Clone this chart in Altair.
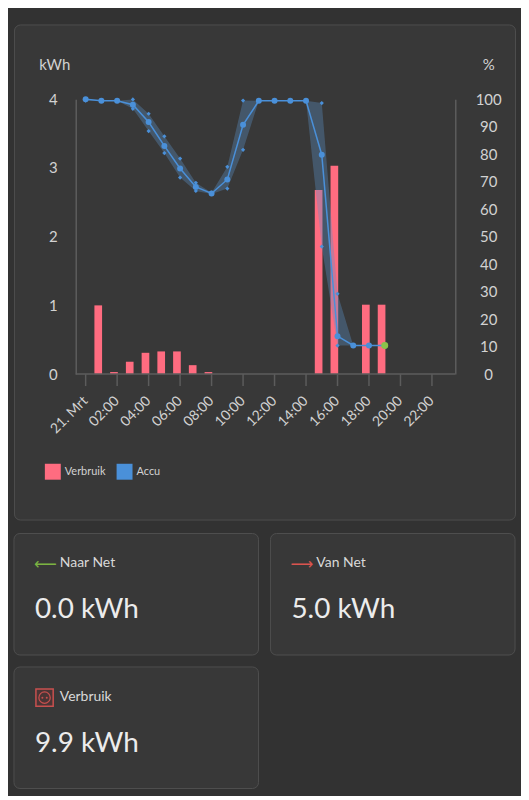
import altair as alt
import pandas as pd

# ---------------- data ----------------
soc_hours = [0, 1, 2, 3, 4, 5, 6, 7, 8, 9, 10, 11, 12, 13, 14, 15, 16, 17, 18, 19]
soc_pct = [100, 99.4, 99.4, 98.0, 91.7, 83.0, 74.8, 68.1, 65.7, 70.8,
           90.7, 99.4, 99.4, 99.4, 99.4, 79.8, 13.8, 10.4, 10.4, 10.4]
soc_max = [100, 99.4, 99.4, 99.9, 94.7, 86.5, 78.4, 69.6, 66.0, 75.4,
           99.5, 99.4, 99.4, 99.4, 99.4, 98.6, 29.2, 10.4, 10.4, 10.4]
soc_min = [99.5, 99.4, 99.4, 96.5, 88.4, 80.4, 71.5, 66.6, 65.5, 67.5,
           81.6, 99.4, 99.4, 99.4, 99.4, 46.4, 10.4, 10.4, 10.4, 10.4]

bar_hours = [0.8, 1.8, 2.8, 3.8, 4.8, 5.8, 6.8, 7.8, 14.8, 15.8, 17.8, 18.8]
bar_kwh = [1.0, 0.03, 0.18, 0.31, 0.33, 0.33, 0.13, 0.03, 2.68, 3.03, 1.01, 1.01]

tick_values = [0, 2, 4, 6, 8, 10, 12, 14, 16, 18, 20, 22]
tick_labels = ["21. Mrt", "02:00", "04:00", "06:00", "08:00", "10:00",
               "12:00", "14:00", "16:00", "18:00", "20:00", "22:00"]
x_domain = [-0.63, 23.48]
kwh_ticks = [0, 1, 2, 3, 4]
pct_ticks = [0, 10, 20, 30, 40, 50, 60, 70, 80, 90, 100]
series_names = ["Verbruik", "Accu"]

card_labels = ["Naar Net", "Van Net", "Verbruik"]
card_values = ["0.0 kWh", "5.0 kWh", "9.9 kWh"]
card_cols = [0, 1, 0]
card_rows = [0, 0, 1]
card_icons = ["\u27f5", "\u27f6", ""]
card_icon_colors = ["#7cb342", "#d9544f", "#d9544f"]

# ---------------- style ----------------
FONT = "Lato"
PAGE = "#323232"
CARD = "#383838"
BORDER = "#4e4e4e"
AXIS = "#5c5c5c"
LABEL = "#d2d2d2"
TITLE = "#d8d8d8"
VALUE = "#ececec"
RED = "#ff6c80"
BLUE = "#4a90d9"
BAND = "#5b8fc4"
GREEN = "#8bc34a"
ICON_RED = "#c8504f"

# ---------------- main card ----------------
bar_df = pd.DataFrame({"t": bar_hours, "kwh": bar_kwh, "series": series_names[0]})
soc_df = pd.DataFrame({"t": soc_hours, "pct": soc_pct, "lo": soc_min, "hi": soc_max})
ext_df = pd.concat([
    pd.DataFrame({"t": soc_hours, "v": soc_min}),
    pd.DataFrame({"t": soc_hours, "v": soc_max}),
])
last_df = pd.DataFrame({"t": [soc_hours[-1]], "pct": [soc_pct[-1]]})
tick_df = pd.DataFrame({"t": tick_values, "label": tick_labels, "y": 0})
xdom_df = pd.DataFrame({"x0": [x_domain[0]], "x1": [x_domain[1]], "y": [0]})

X_SCALE = alt.Scale(domain=x_domain, range=[62, 443], nice=False, zero=False, padding=0)
YL_SCALE = alt.Scale(domain=[0, 4], range=[351, 75], nice=False, zero=True, padding=0)
YR_SCALE = alt.Scale(domain=[0, 100], range=[351, 75], nice=False, zero=True, padding=0)

yl_axis = alt.Axis(
    orient="left", offset=-62, values=kwh_ticks, ticks=False, tickSize=0,
    domain=True, domainColor=AXIS, domainWidth=1.5, grid=False,
    labelAlign="center", labelBaseline="middle", labelPadding=23,
    labelColor=LABEL, labelFont=FONT, labelFontSize=15,
    labelOverlap=False, labelFlush=False,
    title="kWh", titleAngle=0, titleAlign="center", titleBaseline="middle",
    titleX=-21.5, titleY=40, titleColor=LABEL, titleFont=FONT,
    titleFontSize=15, titleFontWeight="normal",
)
yr_axis = alt.Axis(
    orient="right", offset=-60, values=pct_ticks, ticks=False, tickSize=0,
    domain=True, domainColor=AXIS, domainWidth=1.5, grid=False,
    labelAlign="center", labelBaseline="middle", labelPadding=33,
    labelColor=LABEL, labelFont=FONT, labelFontSize=15,
    labelOverlap=False, labelFlush=False,
    title="%", titleAngle=0, titleAlign="center", titleBaseline="middle",
    titleX=33, titleY=40, titleColor=LABEL, titleFont=FONT,
    titleFontSize=15, titleFontWeight="normal",
)

xr = alt.X("t:Q", scale=X_SCALE, axis=None)
y0 = alt.Y("y:Q", scale=YL_SCALE, axis=None)

bars = alt.Chart(bar_df).mark_bar(size=7.7).encode(
    x=xr,
    y=alt.Y("kwh:Q", scale=YL_SCALE, axis=yl_axis),
    color=alt.Color(
        "series:N", title=None,
        scale=alt.Scale(domain=series_names, range=[RED, BLUE]),
        legend=alt.Legend(
            orient="none", legendX=31, legendY=441, direction="horizontal",
            symbolType="square", symbolSize=256, symbolStrokeWidth=0,
            symbolOpacity=1, labelFontSize=11, labelColor=LABEL, labelFont=FONT,
            labelOffset=4, columnPadding=11, padding=0,
        ),
    ),
)

# x axis drawn from the tick lists through the x scale
x_domain_line = alt.Chart(xdom_df).mark_rule(color=AXIS, strokeWidth=1.5).encode(
    x=alt.X("x0:Q", scale=X_SCALE, axis=None), x2="x1:Q", y=y0
)
x_ticks = alt.Chart(tick_df).mark_rule(color=AXIS, strokeWidth=1.5, y2Offset=12).encode(
    x=xr, y=y0, y2="y:Q"
)
x_labels = alt.Chart(tick_df).mark_text(
    angle=315, align="right", baseline="middle", yOffset=25,
    fontSize=14, font=FONT, color=LABEL,
).encode(x=xr, y=y0, text="label:N")

band = alt.Chart(soc_df).mark_area(color=BAND, opacity=0.36).encode(
    x=xr, y=alt.Y("lo:Q", scale=YR_SCALE, axis=yr_axis), y2="hi:Q"
)
line = alt.Chart(soc_df).mark_line(color=BLUE, strokeWidth=1.5).encode(
    x=xr, y=alt.Y("pct:Q", scale=YR_SCALE, axis=None)
)
ext = alt.Chart(ext_df).mark_point(shape="diamond", filled=True, size=18, color=BLUE, opacity=1).encode(
    x=xr, y=alt.Y("v:Q", scale=YR_SCALE, axis=None)
)
pts = alt.Chart(soc_df).mark_circle(size=36, color=BLUE, opacity=1).encode(
    x=xr, y=alt.Y("pct:Q", scale=YR_SCALE, axis=None)
)
last = alt.Chart(last_df).mark_circle(size=49, color=GREEN, opacity=1).encode(
    x=xr, y=alt.Y("pct:Q", scale=YR_SCALE, axis=None)
)

main = alt.layer(
    bars, x_domain_line, x_ticks, x_labels, band, line, ext, pts, last
).resolve_scale(y="independent").properties(
    width=503, height=497,
    view=alt.ViewBackground(fill=CARD, stroke=BORDER, strokeWidth=1, cornerRadius=6),
)

# ---------------- KPI cards ----------------
kdf = pd.DataFrame({
    "col": card_cols, "row": card_rows, "label": card_labels,
    "value": card_values, "icon": card_icons, "icon_color": card_icon_colors,
})
KX = alt.Scale(type="band", domain=[0, 1], paddingInner=0.0466, paddingOuter=0)
KY = alt.Scale(type="band", domain=[0, 1], paddingInner=0.0896, paddingOuter=0)
kx = alt.X("col:O", scale=KX, axis=None, bandPosition=0)
ky = alt.Y("row:O", scale=KY, axis=None, bandPosition=0)

kbase = alt.Chart(kdf)
krect = kbase.mark_rect(cornerRadius=6, fill=CARD, stroke=BORDER, strokeWidth=1).encode(
    x=alt.X("col:O", scale=KX, axis=None), y=alt.Y("row:O", scale=KY, axis=None)
)
karrow = kbase.transform_filter("datum.icon != ''").mark_text(
    align="left", baseline="middle", dx=20, dy=31, fontSize=16, font="DejaVu Sans"
).encode(x=kx, y=ky, text="icon:N", color=alt.Color("icon_color:N", scale=None))
ktitle = kbase.mark_text(
    align="left", baseline="middle", dx=46, dy=30, fontSize=14, font=FONT, color=TITLE
).encode(x=kx, y=ky, text="label:N")
kvalue = kbase.mark_text(
    align="left", baseline="middle", dx=21, dy=77, fontSize=28, font=FONT, color=VALUE
).encode(x=kx, y=ky, text="value:N")

outlet = kbase.transform_filter("datum.icon == ''")
osq = outlet.mark_point(
    shape="square", filled=True, fill="#4a3535", stroke=ICON_RED, strokeWidth=1.5,
    size=300, opacity=1, xOffset=30.7, yOffset=30.8,
).encode(x=kx, y=ky)
ocirc = outlet.mark_point(
    shape="circle", filled=False, stroke=ICON_RED, strokeWidth=1.2,
    size=130, opacity=1, xOffset=30.7, yOffset=30.8,
).encode(x=kx, y=ky)
odot1 = outlet.mark_circle(size=4, color=ICON_RED, opacity=1, xOffset=28.5, yOffset=30.8).encode(x=kx, y=ky)
odot2 = outlet.mark_circle(size=4, color=ICON_RED, opacity=1, xOffset=32.9, yOffset=30.8).encode(x=kx, y=ky)

kpi = alt.layer(krect, karrow, ktitle, kvalue, osq, ocirc, odot1, odot2).properties(
    width=503, height=256
)

chart = alt.vconcat(main, kpi, spacing=12).properties(
    background=PAGE,
    padding={"left": 5, "top": 14, "right": 5, "bottom": 5},
).configure(font=FONT).configure_view(strokeWidth=0)

chart.save("out.html", embed_options={"renderer": "svg", "actions": False})
